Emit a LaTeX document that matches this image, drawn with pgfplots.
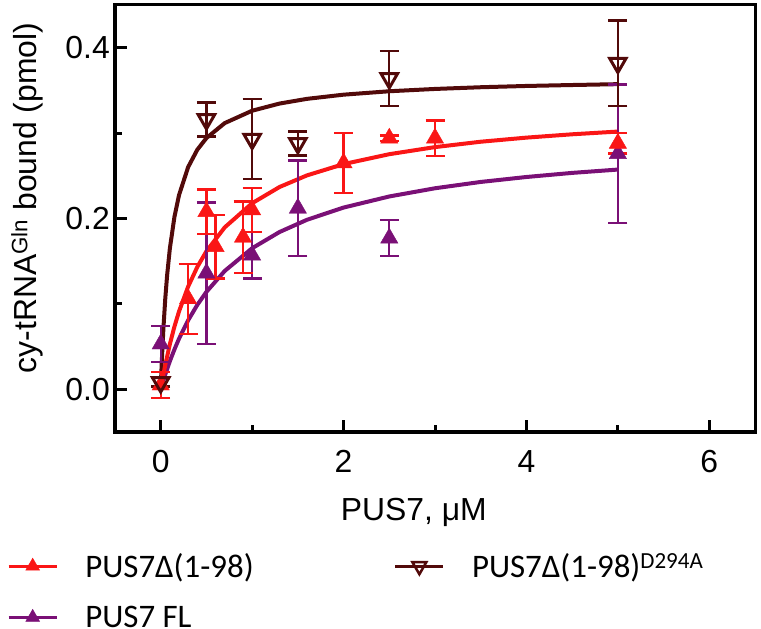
\documentclass[border=0pt]{standalone}
\usepackage{fontspec}
\setmainfont{Liberation Sans}
\newfontfamily\legfont{Carlito}
\usepackage{pgfplots}
\pgfplotsset{compat=1.18}
\definecolor{cred}{RGB}{250,22,22}
\definecolor{cpurple}{RGB}{122,16,118}
\definecolor{cdark}{RGB}{82,10,10}

\pgfplotstableread{
x y e
0 0.005 0.015
0.3 0.106 0.041
0.5 0.208 0.026
0.6 0.167 0.037
0.9 0.178 0.042
1.0 0.210 0.026
2.0 0.265 0.035
2.5 0.294 0.003
3.0 0.294 0.021
5.0 0.288 0.012
}\redtab
\pgfplotstableread{
x y e
0 0.053 0.021
0.5 0.136 0.083
1.0 0.157 0.027
1.5 0.212 0.056
2.5 0.177 0.021
5.0 0.276 0.081
}\purtab
\pgfplotstableread{
x y e
0 0.008 0.005
0.5 0.316 0.020
1.0 0.293 0.047
1.5 0.288 0.014
2.5 0.364 0.032
5.0 0.382 0.050
}\darktab

\begin{document}
\begin{tikzpicture}
\useasboundingbox (0,0) rectangle (761bp,629bp);
\begin{axis}[
  at={(115bp,197bp)}, anchor=south west,
  scale only axis, width=640bp, height=427bp,
  xmin=-0.5, xmax=6.5, ymin=-0.05, ymax=0.45,
  xtick={0,2,4,6}, ytick={0,0.2,0.4},
  minor x tick num=1, minor y tick num=1,
  xtick pos=bottom, ytick pos=left, tick align=inside,
  major tick length=12bp, minor tick length=7bp,
  every tick/.style={black, line width=3bp},
  axis line style={line width=3bp},
  /pgf/number format/assume math mode=true,
  tick label style={font=\fontsize{32}{38}\selectfont},
  yticklabel style={anchor=east, inner sep=0pt, xshift=-5bp, /pgf/number format/.cd, fixed, fixed zerofill, precision=1},
  xticklabel style={anchor=north, inner sep=0pt, yshift=-18bp},
  label style={font=\fontsize{32}{38}\selectfont},
  xlabel={PUS7, μM},
  xlabel style={at={(axis description cs:0.467,-0.208)}, anchor=base},
  ylabel={cy-tRNA\textsuperscript{Gln} bound (pmol)},
  ylabel style={at={(axis description cs:-0.1375,0.548)}, anchor=center},
  legend columns=2,
  legend image code/.code={\draw[mark repeat=2,mark phase=2,#1] plot coordinates {(0bp,0bp) (24bp,0bp) (48bp,0bp)};},
  legend style={draw=none, fill=none, at={(-0.169,-0.284)}, anchor=north west,
    inner sep=0pt, font=\legfont\fontsize{33}{40}\selectfont,
    nodes={inner sep=0pt}, row sep=27bp,
    /tikz/every odd column/.append style={column sep=27bp},
    /tikz/every even column/.append style={column sep=140bp},
    legend cell align=left},
]
% fitted curves
\addplot[cdark, line width=4bp, forget plot] coordinates {
(0,0) (0.01,0.0277) (0.02,0.0515) (0.03,0.0722) (0.05,0.1064) (0.07,0.1334) (0.1,0.1649) (0.15,0.2018) (0.2,0.2273) (0.3,0.2602) (0.4,0.2805) (0.5,0.2942) (0.7,0.3117) (1,0.3262) (1.3,0.3346) (1.6,0.3401) (2,0.3450) (2.5,0.3490) (3,0.3517) (3.5,0.3537) (4,0.3552) (4.5,0.3563) (5,0.3573)};
\addplot[cpurple, line width=4bp, forget plot] coordinates {
(0,0) (0.02,0.0072) (0.05,0.0174) (0.1,0.0329) (0.15,0.0467) (0.2,0.0592) (0.3,0.0808) (0.4,0.0988) (0.5,0.1141) (0.7,0.1386) (1,0.1652) (1.3,0.1842) (1.6,0.1985) (2,0.2128) (2.5,0.2258) (3,0.2354) (3.5,0.2428) (4,0.2486) (4.5,0.2534) (5,0.2573)};
\addplot[cred, line width=4bp, forget plot] coordinates {
(0,0) (0.02,0.0121) (0.05,0.0286) (0.1,0.0528) (0.15,0.0734) (0.2,0.0911) (0.3,0.1203) (0.4,0.1432) (0.5,0.1617) (0.7,0.1896) (1,0.2179) (1.3,0.2369) (1.6,0.2505) (2,0.2637) (2.5,0.2753) (3,0.2836) (3.5,0.2899) (4,0.2947) (4.5,0.2986) (5,0.3018)};
% data
\addplot[only marks, cpurple, mark=triangle*, mark size=10bp, forget plot,
  error bars/.cd, y dir=both, y explicit,
  error bar style={line width=2.2bp, cpurple},
  error mark options={rotate=90, mark size=9.5bp, line width=2.5bp, cpurple}]
  table[x=x, y=y, y error=e] {\purtab};
\addplot[only marks, cred, mark=triangle*, mark size=10bp, forget plot,
  error bars/.cd, y dir=both, y explicit,
  error bar style={line width=2.2bp, cred},
  error mark options={rotate=90, mark size=9.5bp, line width=2.5bp, cred}]
  table[x=x, y=y, y error=e] {\redtab};
\addplot[only marks, cdark, mark=triangle, mark size=9.5bp, forget plot,
  mark options={rotate=180, fill=white, line width=3bp},
  error bars/.cd, y dir=both, y explicit,
  error bar style={line width=2.2bp, cdark},
  error mark options={rotate=90, mark size=9.5bp, line width=2.5bp, cdark}]
  table[x=x, y=y, y error=e] {\darktab};
% legend
\addlegendimage{cred, line width=3.3bp, mark=triangle*, mark size=8bp, mark options={line width=0.5bp}}
\addlegendentry{PUS7Δ(1-98)}
\addlegendimage{cdark, line width=3.3bp, mark=triangle, mark size=8bp, mark options={rotate=180, fill=white, line width=2.5bp}}
\addlegendentry{PUS7Δ(1-98)\textsuperscript{D294A}}
\addlegendimage{cpurple, line width=3.3bp, mark=triangle*, mark size=8bp, mark options={line width=0.5bp}}
\addlegendentry{PUS7 FL}
\end{axis}
\end{tikzpicture}
\end{document}
